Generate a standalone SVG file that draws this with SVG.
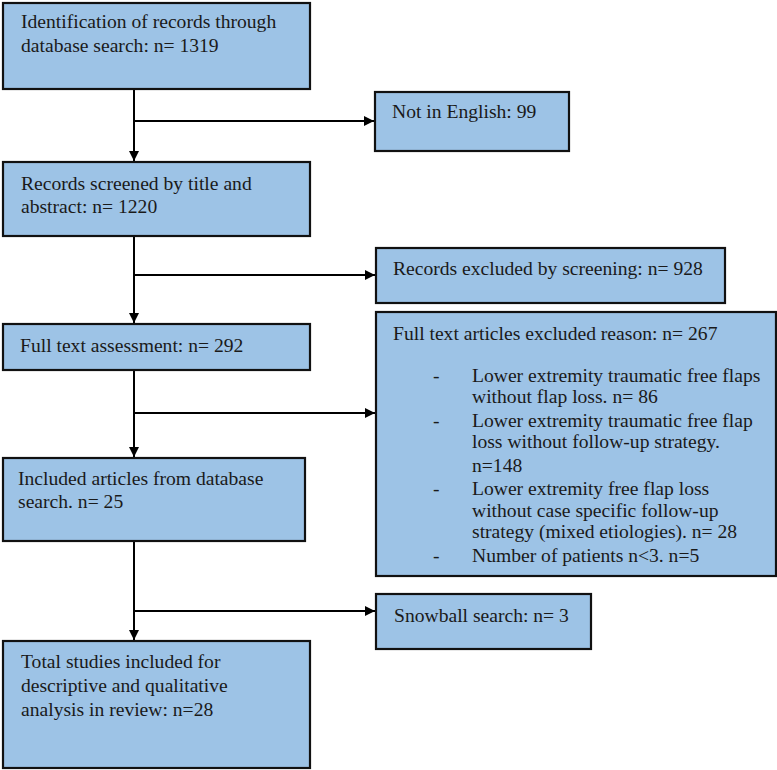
<svg xmlns="http://www.w3.org/2000/svg" width="777" height="770" viewBox="0 0 777 770">
<defs>
<style>
.box{fill:#9DC3E6;stroke:#111;stroke-width:2.2}
.t{font-family:'Liberation Serif','Times New Roman',Times,serif;font-size:19.6px;fill:#1a1a1a}
.ln{stroke:#000;stroke-width:2;fill:none}
</style>
<marker id="ah" markerWidth="10" markerHeight="10" refX="10" refY="5" orient="auto" markerUnits="userSpaceOnUse">
<path d="M0,0 L10,5 L0,10 Z" fill="#000"/>
</marker>
</defs>
<rect width="777" height="770" fill="#fff"/>
<g id="connectors">
<line class="ln" x1="134" y1="89" x2="134" y2="161" marker-end="url(#ah)"/>
<line class="ln" x1="134" y1="121" x2="374" y2="121" marker-end="url(#ah)"/>
<line class="ln" x1="134" y1="236" x2="134" y2="323" marker-end="url(#ah)"/>
<line class="ln" x1="134" y1="275" x2="375" y2="275" marker-end="url(#ah)"/>
<line class="ln" x1="134" y1="370" x2="134" y2="457" marker-end="url(#ah)"/>
<line class="ln" x1="134" y1="413" x2="375" y2="413" marker-end="url(#ah)"/>
<line class="ln" x1="134" y1="541" x2="134" y2="640" marker-end="url(#ah)"/>
<line class="ln" x1="134" y1="611" x2="375" y2="611" marker-end="url(#ah)"/>
</g>
<g class="t" font-family="Liberation Serif, Times New Roman, serif">
<g id="n1">
<rect class="box" x="3" y="3" width="307" height="86"/>
<text x="21" y="28">Identification of records through</text>
<text x="21" y="52">database search: n= 1319</text>
</g>
<g id="n2">
<rect class="box" x="375" y="92" width="194" height="59"/>
<text x="392" y="118">Not in English: 99</text>
</g>
<g id="n3">
<rect class="box" x="3" y="162" width="307" height="74"/>
<text x="21" y="190">Records screened by title and</text>
<text x="21" y="213">abstract: n= 1220</text>
</g>
<g id="n4">
<rect class="box" x="376" y="248" width="349" height="55"/>
<text x="393" y="275">Records excluded by screening: n= 928</text>
</g>
<g id="n5">
<rect class="box" x="3" y="324" width="307" height="46"/>
<text x="20" y="352">Full text assessment: n= 292</text>
</g>
<g id="n6">
<rect class="box" x="376" y="312" width="400" height="264"/>
<text x="393" y="340">Full text articles excluded reason: n= 267</text>
<text x="433" y="382">-</text>
<text x="472" y="382">Lower extremity traumatic free flaps</text>
<text x="472" y="403">without flap loss. n= 86</text>
<text x="433" y="427">-</text>
<text x="472" y="427">Lower extremity traumatic free flap</text>
<text x="472" y="448">loss without follow-up strategy.</text>
<text x="472" y="472">n=148</text>
<text x="433" y="495">-</text>
<text x="472" y="495">Lower extremity free flap loss</text>
<text x="472" y="517">without case specific follow-up</text>
<text x="472" y="538">strategy (mixed etiologies). n= 28</text>
<text x="433" y="562">-</text>
<text x="472" y="562">Number of patients n&lt;3. n=5</text>
</g>
<g id="n7">
<rect class="box" x="3" y="458" width="302" height="83"/>
<text x="18" y="485">Included articles from database</text>
<text x="18" y="508">search. n= 25</text>
</g>
<g id="n8">
<rect class="box" x="376" y="594" width="215" height="55"/>
<text x="394" y="622">Snowball search: n= 3</text>
</g>
<g id="n9">
<rect class="box" x="3" y="641" width="307" height="127"/>
<text x="21" y="668">Total studies included for</text>
<text x="21" y="692">descriptive and qualitative</text>
<text x="21" y="716">analysis in review: n=28</text>
</g>
</g>
</svg>
